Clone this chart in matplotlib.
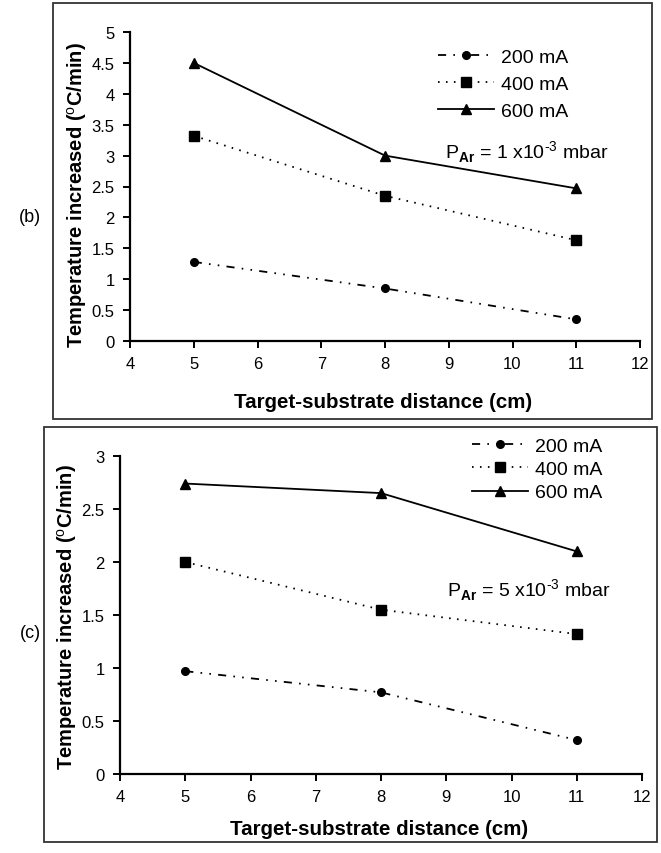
import matplotlib
matplotlib.use("Agg")
import matplotlib.pyplot as plt
from matplotlib.patches import Rectangle
from matplotlib.ticker import FuncFormatter, MultipleLocator

plt.rcParams['font.family'] = ['Liberation Sans', 'DejaVu Sans']
plt.rcParams['mathtext.fontset'] = 'custom'
plt.rcParams['mathtext.rm'] = 'Liberation Sans'
plt.rcParams['mathtext.bf'] = 'Liberation Sans:bold'

# target-substrate distance (cm)
distance = [5, 8, 11]

# panel (b): P_Ar = 1e-3 mbar
b_200 = [1.28, 0.85, 0.35]
b_400 = [3.32, 2.35, 1.63]
b_600 = [4.50, 3.00, 2.47]

# panel (c): P_Ar = 5e-3 mbar
c_200 = [0.97, 0.77, 0.32]
c_400 = [2.00, 1.55, 1.32]
c_600 = [2.74, 2.65, 2.10]

labels = ["200 mA", "400 mA", "600 mA"]

W, H = 661, 854
fig = plt.figure(figsize=(W / 100, H / 100), dpi=100)


def fx(px):
    return px / W


def fy(py):
    return 1 - py / H


def panel(rect, series, ymax, tag, tag_xy, pres, pres_xy, leg_xy, leg_space, ylab_xy, xlab_y):
    ax = fig.add_axes(rect)
    # (dash pattern, marker, marker size)
    styles = [((0, (4.5, 4, 0.9, 4, 0.9, 4)), 'o', 5.5),
              ((0, (0.9, 3.5)), 's', 6.5),
              ('-', '^', 7.5)]
    for vals, lab, (ls, mk, ms) in zip(series, labels, styles):
        ax.plot(distance, vals, color='black', ls=ls, lw=1.3, marker=mk,
                ms=ms, label=lab)
    ax.set_xlim(4, 12)
    ax.set_ylim(0, ymax)
    ax.xaxis.set_major_locator(MultipleLocator(1))
    ax.yaxis.set_major_locator(MultipleLocator(0.5))
    fmt = FuncFormatter(lambda v, p: '%g' % v)
    ax.xaxis.set_major_formatter(fmt)
    ax.yaxis.set_major_formatter(fmt)
    for s in ['top', 'right']:
        ax.spines[s].set_visible(False)
    for s in ['left', 'bottom']:
        ax.spines[s].set_linewidth(1.6)
    ax.tick_params(direction='out', length=5, width=1.4, labelsize=12, pad=6)
    ax.set_facecolor('none')

    fig.text(fx(tag_xy[0]), fy(tag_xy[1]), tag, fontsize=13, ha='center', va='center')
    fig.text(fx(pres_xy[0]), fy(pres_xy[1]), pres, fontsize=14, ha='left', va='center')
    fig.text(fx(ylab_xy[0]), fy(ylab_xy[1]),
             'Temperature increased ($^{\\mathrm{o}}$C/min)',
             fontsize=14.5, fontweight='bold', rotation=90, ha='center', va='center')
    fig.text(rect[0] + rect[2] / 2 - 0.003, fy(xlab_y), 'Target-substrate distance (cm)',
             fontsize=14.8, fontweight='bold', ha='center', va='center')
    ax.legend(loc='upper left', bbox_to_anchor=(fx(leg_xy[0]), fy(leg_xy[1])),
              bbox_transform=fig.transFigure, frameon=False, fontsize=14,
              handlelength=2.9, handletextpad=0.35, labelspacing=leg_space,
              borderpad=0, borderaxespad=0)
    return ax


# panel frames
fig.add_artist(Rectangle((fx(53), fy(420)), fx(652 - 53), (420 - 4) / H,
                         transform=fig.transFigure, fill=False, lw=1.3, ec='#333333'))
fig.add_artist(Rectangle((fx(44), fy(843)), fx(657 - 44), (843 - 428) / H,
                         transform=fig.transFigure, fill=False, lw=1.3, ec='#333333'))

panel([fx(130), fy(342), fx(640 - 130), (342 - 33) / H], [b_200, b_400, b_600], 5,
      '(b)', (30, 218), 'P$_{\\mathbf{Ar}}$ = 1 x10$^{\u2010\\mathrm{3}}$ mbar', (445, 152),
      (438, 49), 0.5, (77, 195), 402)

panel([fx(120), fy(775), fx(642 - 120), (775 - 457) / H], [c_200, c_400, c_600], 3,
      '(c)', (30, 633), 'P$_{\\mathbf{Ar}}$ = 5 x10$^{\u2010\\mathrm{3}}$ mbar', (447, 590),
      (472, 438), 0.3, (67, 617), 830)

fig.savefig('out.png', dpi=100)
